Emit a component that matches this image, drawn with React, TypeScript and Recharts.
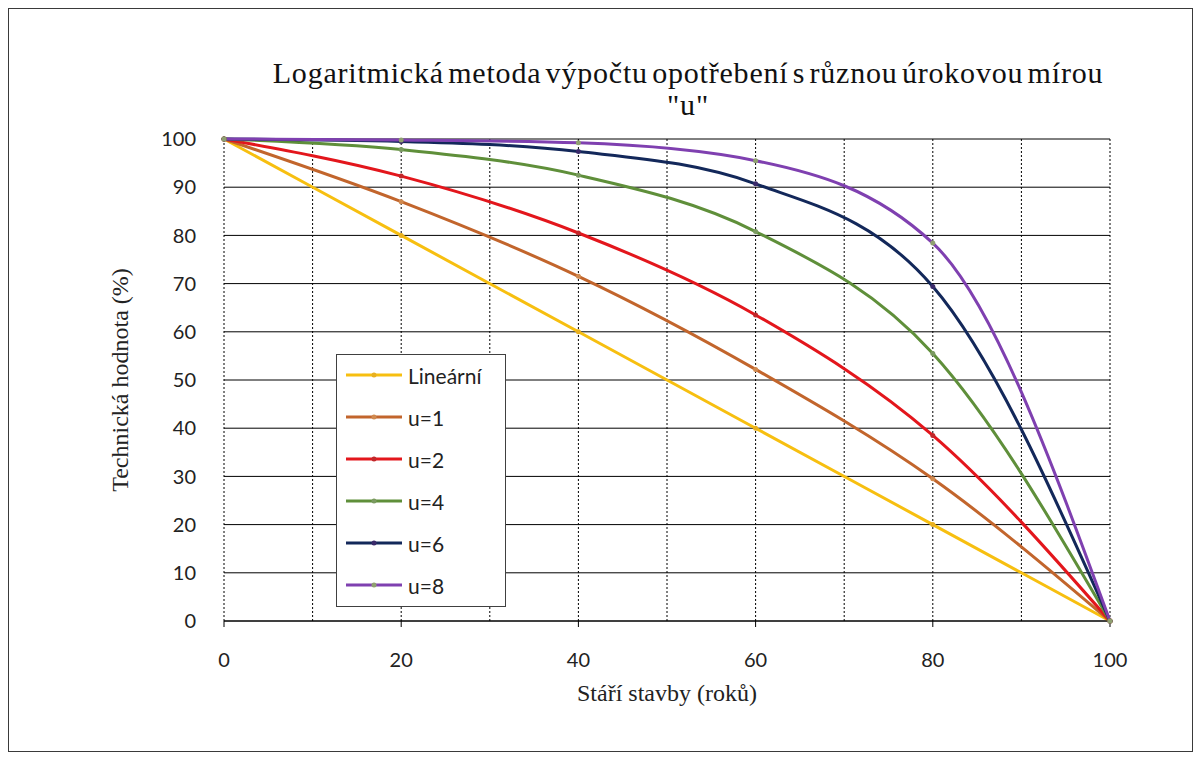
import { LineChart, Line, XAxis, YAxis, CartesianGrid, ReferenceLine, Legend } from "recharts";

// stáří stavby (roky) a technická hodnota (%) pro jednotlivé křivky
const ages = [0, 20, 40, 60, 80, 100];
const linear = [100, 80, 60, 40, 20, 0];
const u1 = [100, 87, 71.5, 52.2, 29.5, 0];
const u2 = [100, 92.3, 80.5, 63.5, 38.5, 0];
const u4 = [100, 97.8, 92.5, 80.8, 55.5, 0];
const u6 = [100, 99.5, 97.4, 90.7, 69.4, 0];
const u8 = [100, 99.8, 99.2, 95.5, 78.4, 0];

const xTicks = [0, 20, 40, 60, 80, 100];
const xGrid = [0, 10, 20, 30, 40, 50, 60, 70, 80, 90, 100];
const yTicks = [0, 10, 20, 30, 40, 50, 60, 70, 80, 90, 100];

const series = [
  { key: "lin", name: "Lineární", values: linear, color: "#f7bf10", dot: "#e8b020" },
  { key: "u1", name: "u=1", values: u1, color: "#c2652c", dot: "#d08a50" },
  { key: "u2", name: "u=2", values: u2, color: "#e3161c", dot: "#c0282a" },
  { key: "u4", name: "u=4", values: u4, color: "#5f8f3a", dot: "#7a9a60" },
  { key: "u6", name: "u=6", values: u6, color: "#13285a", dot: "#3a2a6a" },
  { key: "u8", name: "u=8", values: u8, color: "#7f40b0", dot: "#8fa070" },
];

const data = ages.map((age, i) => {
  const row: Record<string, number> = { age };
  series.forEach((s) => (row[s.key] = s.values[i]));
  return row;
});

const serif = "'Liberation Serif', 'Times New Roman', serif";
const sans = "Lato, 'Open Sans', sans-serif";

function LegendBox() {
  return (
    <div style={{ width: 168, height: 251, border: "1px solid #404040", background: "#fff" }}>
      {series.map((s, i) => (
        <div key={s.key} style={{ position: "absolute", left: 10, top: 21 + i * 42 - 13, height: 26, display: "flex", alignItems: "center" }}>
          <svg width={56} height={10}>
            <line x1={0} y1={5} x2={56} y2={5} stroke={s.color} strokeWidth={3} />
            <circle cx={28} cy={5} r={2.5} fill={s.dot} />
          </svg>
          <span style={{ marginLeft: 6, fontFamily: sans, fontSize: 21, color: "#222" }}>{s.name}</span>
        </div>
      ))}
    </div>
  );
}

export default function App() {
  return (
    <div style={{ position: "relative", width: 1183, height: 742, border: "1px solid #3a3a3a", background: "#fff" }}>
      <div style={{ position: "absolute", left: 0, top: 48, width: 1358, textAlign: "center", fontFamily: serif, fontSize: 30, lineHeight: "32px", letterSpacing: 0.8, wordSpacing: -4, color: "#111" }}>
        Logaritmická metoda výpočtu opotřebení s různou úrokovou mírou
        <br />"u"
      </div>
      <div style={{ position: "absolute", left: 111, top: 371, width: 0, height: 0 }}>
        <div style={{ position: "absolute", transform: "translate(-50%, -50%) rotate(-90deg)", whiteSpace: "nowrap", fontFamily: serif, fontSize: 24, color: "#222" }}>
          Technická hodnota (%)
        </div>
      </div>
      <div style={{ position: "absolute", left: 0, width: 1316, top: 671, textAlign: "center", fontFamily: serif, fontSize: 24, color: "#222" }}>
        Stáří stavby (roků)
      </div>
      <LineChart width={1183} height={742} data={data} margin={{ top: 130, right: 82, bottom: 90, left: 150 }}>
        <CartesianGrid vertical={false} stroke="#000" strokeWidth={1} />
        {xGrid.map((x) => (
          <ReferenceLine key={x} x={x} stroke="#000" strokeDasharray="2 2" strokeWidth={1} />
        ))}
        <XAxis
          dataKey="age"
          type="number"
          domain={[0, 100]}
          ticks={xTicks}
          height={40}
          axisLine={{ stroke: "#000" }}
          tickLine={{ stroke: "#000" }}
          tickSize={6}
          tickMargin={26}
          tick={{ fontFamily: sans, fontSize: 20, fill: "#222" }}
        />
        <YAxis
          type="number"
          domain={[0, 100]}
          ticks={yTicks}
          width={65}
          axisLine={false}
          tickLine={false}
          tickMargin={22}
          tick={{ fontFamily: sans, fontSize: 20, fill: "#222" }}
        />
        <Legend layout="vertical" align="center" verticalAlign="middle" wrapperStyle={{ left: 327, top: 345, width: 170, height: 253 }} content={() => <LegendBox />} />
        {series.map((s) => (
          <Line
            key={s.key}
            dataKey={s.key}
            name={s.name}
            type="monotone"
            stroke={s.color}
            strokeWidth={3}
            dot={{ r: 2.5, fill: s.dot, stroke: "none" }}
            isAnimationActive={false}
          />
        ))}
      </LineChart>
    </div>
  );
}
